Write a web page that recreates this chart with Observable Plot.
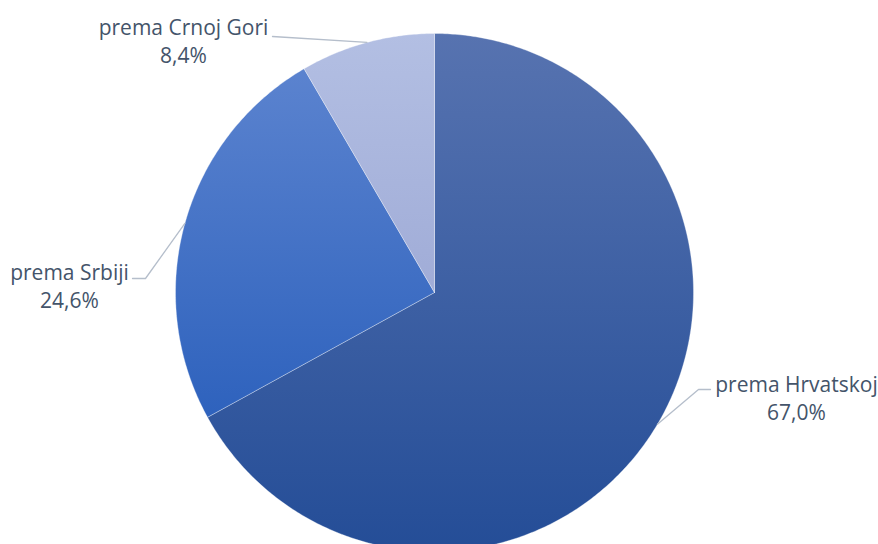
<!DOCTYPE html>
<html><head><meta charset="utf-8">
<script src="https://cdn.jsdelivr.net/npm/d3@7"></script>
<script src="https://cdn.jsdelivr.net/npm/@observablehq/plot@0.6"></script>
<style>body{margin:0;background:#fff}#chart{width:878px;height:544px;overflow:hidden}</style>
</head><body><div id="chart"></div>
<script>
// data
const categories = ["prema Hrvatskoj", "prema Srbiji", "prema Crnoj Gori"];
const values = [67.0, 24.6, 8.4];
const valueLabels = ["67,0%", "24,6%", "8,4%"];

// layout (pixels relative to pie centre)
const W = 878, H = 544, CX = 434, CY = 292, R = 259;
const labelPos = [ {x: 362, y: 105}, {x: -365, y: -7}, {x: -251, y: -252} ];
const leaderVia = [
  [[264, 97], [276, 97]],
  [[-289, -14], [-302, -14]],
  [[-162, -256]]
];
const gradients = [
  ["#5773b0", "#244d97"],
  ["#5b83cf", "#2e62bd"],
  ["#b3bfe3", "#a0acd7"]
];

const pie = d3.pie().sort(null).value(d => d)(values);
const sliceMarks = pie.map((p, i) => {
  const n = Math.max(4, Math.ceil((p.endAngle - p.startAngle) / 0.01));
  const pts = [{x: 0, y: 0}];
  for (let k = 0; k <= n; k++) {
    const a = p.startAngle + (p.endAngle - p.startAngle) * k / n;
    pts.push({x: R * Math.sin(a), y: -R * Math.cos(a)});
  }
  pts.push({x: 0, y: 0});
  return Plot.line(pts, {x: "x", y: "y", fill: `url(#g${i})`, stroke: "white", strokeWidth: 0.6, strokeOpacity: 0.55, curve: "linear"});
});

const leaders = [];
pie.forEach((p, i) => {
  const a = (p.startAngle + p.endAngle) / 2;
  leaders.push({k: i, x: R * Math.sin(a), y: -R * Math.cos(a)});
  leaderVia[i].forEach(([x, y]) => leaders.push({k: i, x, y}));
});

const labelData = categories.map((c, i) => ({x: labelPos[i].x, y: labelPos[i].y, t: c + "\n" + valueLabels[i]}));

const svg = Plot.plot({
  width: W, height: H,
  margin: 0,
  x: {domain: [-CX, W - CX], axis: null},
  y: {domain: [-CY, H - CY], range: [0, H], axis: null},
  style: {background: "white"},
  marks: [
    ...sliceMarks,
    Plot.line(leaders, {x: "x", y: "y", z: "k", stroke: "#b5becb", strokeWidth: 1.3, curve: "linear"}),
    Plot.text(labelData, {x: "x", y: "y", text: "t", fill: "#44546a", fontSize: 21, fontFamily: "Open Sans", lineHeight: 1.33})
  ]
});

const defs = d3.select(svg).insert("defs", ":first-child");
gradients.forEach(([c0, c1], i) => {
  const g = defs.append("linearGradient").attr("id", "g" + i).attr("x1", 0).attr("y1", 0).attr("x2", 0).attr("y2", 1);
  g.append("stop").attr("offset", "0%").attr("stop-color", c0);
  g.append("stop").attr("offset", "100%").attr("stop-color", c1);
});
document.getElementById("chart").appendChild(svg);
</script>
</body></html>
